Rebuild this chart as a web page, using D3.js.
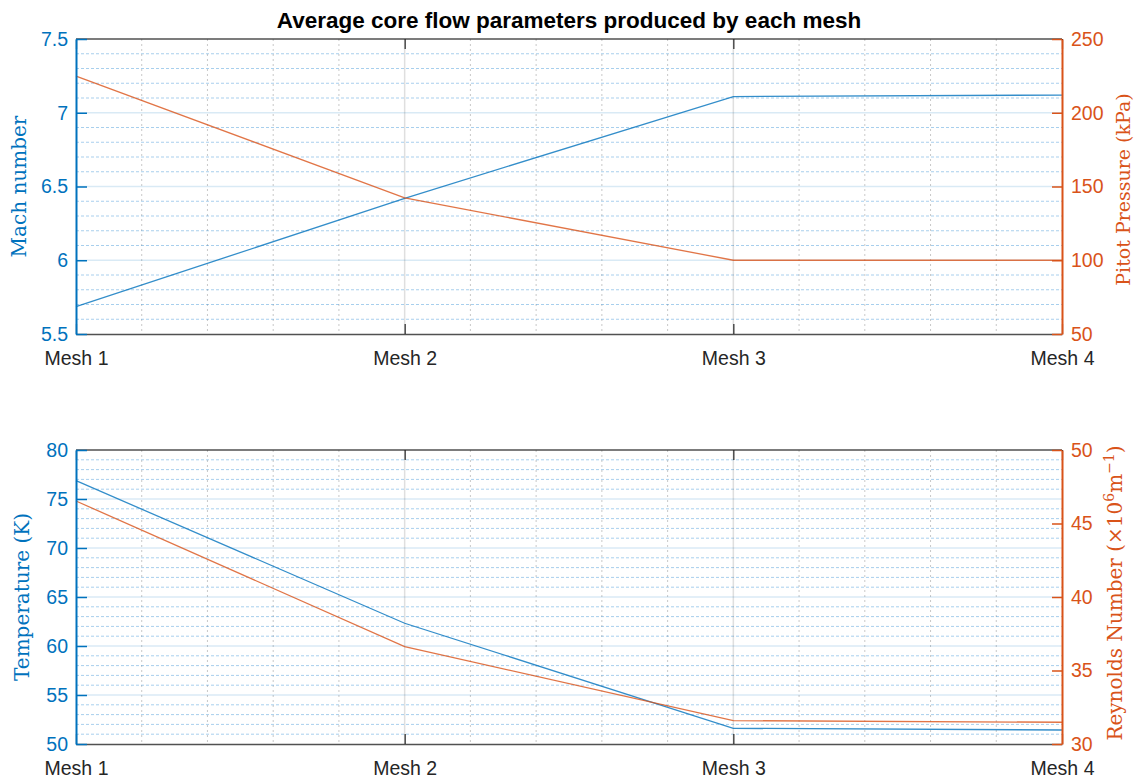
<!DOCTYPE html>
<html>
<head>
<meta charset="utf-8">
<script src="https://cdn.jsdelivr.net/npm/d3@7"></script>
<style>
  html, body { margin: 0; padding: 0; background: #ffffff; }
  svg { display: block; }
</style>
</head>
<body>
<svg id="chart" width="1139" height="781"></svg>
<script>
// ---------------- Data ----------------
const categories = ["Mesh 1", "Mesh 2", "Mesh 3", "Mesh 4"];
const machNumber = [5.685, 6.42, 7.11, 7.12];
const pitotPressure = [224.9, 142.3, 100, 100];
const temperature = [76.87, 62.32, 51.6, 51.43];
const reynoldsNumber = [46.53, 36.62, 31.59, 31.48];

const machTicks = [5.5, 6, 6.5, 7, 7.5];
const pitotTicks = [50, 100, 150, 200, 250];
const temperatureTicks = [50, 55, 60, 65, 70, 75, 80];
const reynoldsTicks = [30, 35, 40, 45, 50];

const titleText = "Average core flow parameters produced by each mesh";

// ---------------- Style ----------------
const BLUE = "#0072BD";
const ORANGE = "#D95319";
const DARK = "#262626";
const SANS = "'Liberation Sans', Arial, Helvetica, sans-serif";
const SERIF = "'DejaVu Serif', 'Liberation Serif', serif";
const TICK_FONT = "19.5px";

const svg = d3.select("#chart");
const left = 76, right = 1062;

const x = d3.scaleLinear().domain([0, categories.length - 1]).range([left, right]);
const catIdx = categories.map((d, i) => i);
const minorX = d3.range(0, (categories.length - 1) * 5 + 1).map(i => i / 5).filter(v => Math.abs(v - Math.round(v)) > 1e-6);

function panel(opt) {
  const { top, bottom, yL, yR, ticksL, ticksR, minorStepL, seriesL, seriesR } = opt;
  const g = svg.append("g");

  // minor horizontal grid (left axis based, dotted)
  const minorY = [];
  const [d0, d1] = yL.domain();
  for (let v = d0; v <= d1 + 1e-9; v += minorStepL) {
    const vv = Math.round(v * 1000) / 1000;
    if (!ticksL.some(t => Math.abs(t - vv) < 1e-6)) minorY.push(vv);
  }

  // minor vertical grid (dotted gray)
  g.append("g").selectAll("line").data(minorX).join("line")
    .attr("x1", d => x(d)).attr("x2", d => x(d))
    .attr("y1", top).attr("y2", bottom)
    .attr("stroke", DARK).attr("stroke-opacity", 0.25)
    .attr("stroke-width", 1).attr("stroke-dasharray", "2,3");

  g.append("g").selectAll("line").data(minorY).join("line")
    .attr("x1", left).attr("x2", right)
    .attr("y1", d => yL(d)).attr("y2", d => yL(d))
    .attr("stroke", "#3d95d6").attr("stroke-opacity", 0.45)
    .attr("stroke-width", 1).attr("stroke-dasharray", "3,2");

  // major horizontal grid
  g.append("g").selectAll("line").data(ticksL.slice(1, -1)).join("line")
    .attr("x1", left).attr("x2", right)
    .attr("y1", d => yL(d)).attr("y2", d => yL(d))
    .attr("stroke", BLUE).attr("stroke-opacity", 0.15).attr("stroke-width", 1.5);

  // major vertical grid
  g.append("g").selectAll("line").data(catIdx.slice(1, -1)).join("line")
    .attr("x1", d => x(d)).attr("x2", d => x(d))
    .attr("y1", top).attr("y2", bottom)
    .attr("stroke", DARK).attr("stroke-opacity", 0.15).attr("stroke-width", 1.5);

  // series lines
  const lineL = d3.line().x((d, i) => x(i)).y(d => yL(d));
  const lineR = d3.line().x((d, i) => x(i)).y(d => yR(d));
  g.append("path").attr("d", lineL(seriesL)).attr("fill", "none")
    .attr("stroke", BLUE).attr("stroke-width", 1.3).attr("stroke-opacity", 0.8);
  g.append("path").attr("d", lineR(seriesR)).attr("fill", "none")
    .attr("stroke", ORANGE).attr("stroke-width", 1.3).attr("stroke-opacity", 0.8);

  // top box line
  g.append("line").attr("x1", left).attr("x2", right).attr("y1", top).attr("y2", top)
    .attr("stroke", DARK).attr("stroke-opacity", 0.8).attr("stroke-width", 1.5);

  // x axis (bottom) with labels
  const xAxisB = d3.axisBottom(x).tickValues(catIdx).tickFormat(i => categories[i])
    .tickSizeInner(-10).tickSizeOuter(0).tickPadding(17);
  const gxb = g.append("g").attr("transform", `translate(0,${bottom})`).call(xAxisB);
  gxb.select(".domain").attr("stroke", DARK).attr("stroke-opacity", 0.8).attr("stroke-width", 1.5);
  gxb.selectAll(".tick line").attr("stroke", DARK).attr("stroke-width", 1.2);
  gxb.selectAll(".tick text").attr("fill", DARK).style("font-family", SANS).style("font-size", TICK_FONT);

  // x axis (top) ticks only
  const xAxisT = d3.axisTop(x).tickValues(catIdx).tickFormat("")
    .tickSizeInner(-10).tickSizeOuter(0);
  const gxt = g.append("g").attr("transform", `translate(0,${top})`).call(xAxisT);
  gxt.select(".domain").remove();
  gxt.selectAll(".tick line").attr("stroke", DARK).attr("stroke-width", 1.2);

  // left axis
  const yAxisL = d3.axisLeft(yL).tickValues(ticksL).tickFormat(d3.format("~g"))
    .tickSizeInner(-11).tickSizeOuter(0).tickPadding(8);
  const gyl = g.append("g").attr("transform", `translate(${left},0)`).call(yAxisL);
  gyl.select(".domain").attr("stroke", BLUE).attr("stroke-width", 2);
  gyl.selectAll(".tick line").attr("stroke", BLUE).attr("stroke-width", 1.5);
  gyl.selectAll(".tick text").attr("fill", BLUE).style("font-family", SANS).style("font-size", TICK_FONT);

  // right axis
  const yAxisR = d3.axisRight(yR).tickValues(ticksR).tickFormat(d3.format("~g"))
    .tickSizeInner(-10).tickSizeOuter(0).tickPadding(9);
  const gyr = g.append("g").attr("transform", `translate(${right},0)`).call(yAxisR);
  gyr.select(".domain").attr("stroke", ORANGE).attr("stroke-width", 2);
  gyr.selectAll(".tick line").attr("stroke", ORANGE).attr("stroke-width", 1.5);
  gyr.selectAll(".tick text").attr("fill", ORANGE).style("font-family", SANS).style("font-size", TICK_FONT);

  return g;
}

// ---------------- Top panel ----------------
const top1 = 39, bot1 = 334;
const yMach = d3.scaleLinear().domain([5.5, 7.5]).range([bot1, top1]);
const yPitot = d3.scaleLinear().domain([50, 250]).range([bot1, top1]);
panel({ top: top1, bottom: bot1, yL: yMach, yR: yPitot, ticksL: machTicks, ticksR: pitotTicks,
        minorStepL: 0.1, seriesL: machNumber, seriesR: pitotPressure });

// ---------------- Bottom panel ----------------
const top2 = 450, bot2 = 744;
const yTemp = d3.scaleLinear().domain([50, 80]).range([bot2, top2]);
const yRe = d3.scaleLinear().domain([30, 50]).range([bot2, top2]);
panel({ top: top2, bottom: bot2, yL: yTemp, yR: yRe, ticksL: temperatureTicks, ticksR: reynoldsTicks,
        minorStepL: 1, seriesL: temperature, seriesR: reynoldsNumber });

// ---------------- Title ----------------
svg.append("text").attr("x", (left + right) / 2).attr("y", 28)
  .attr("text-anchor", "middle").attr("fill", "#000")
  .style("font-family", SANS).style("font-weight", "bold").style("font-size", "22.5px")
  .text(titleText);

// ---------------- Axis labels ----------------
function yLabel(xPos, yPos, color, size) {
  return svg.append("text")
    .attr("transform", `translate(${xPos},${yPos}) rotate(-90)`)
    .attr("text-anchor", "middle").attr("fill", color)
    .style("font-family", SERIF).style("font-size", size || "20px");
}
yLabel(26, (top1 + bot1) / 2, BLUE).text("Mach number");
yLabel(1130, (top1 + bot1) / 2 + 3, ORANGE, "19px").text("Pitot Pressure (kPa)");
yLabel(29, (top2 + bot2) / 2, BLUE).text("Temperature (K)");
const re = yLabel(1122, (top2 + bot2) / 2 - 4, ORANGE);
re.append("tspan").text("Reynolds Number (\u00D710");
re.append("tspan").attr("dy", -8).style("font-size", "14px").text("6");
re.append("tspan").attr("dy", 8).text("m");
re.append("tspan").attr("dy", -8).style("font-size", "14px").text("\u22121");
re.append("tspan").attr("dy", 8).text(")");
</script>
</body>
</html>
